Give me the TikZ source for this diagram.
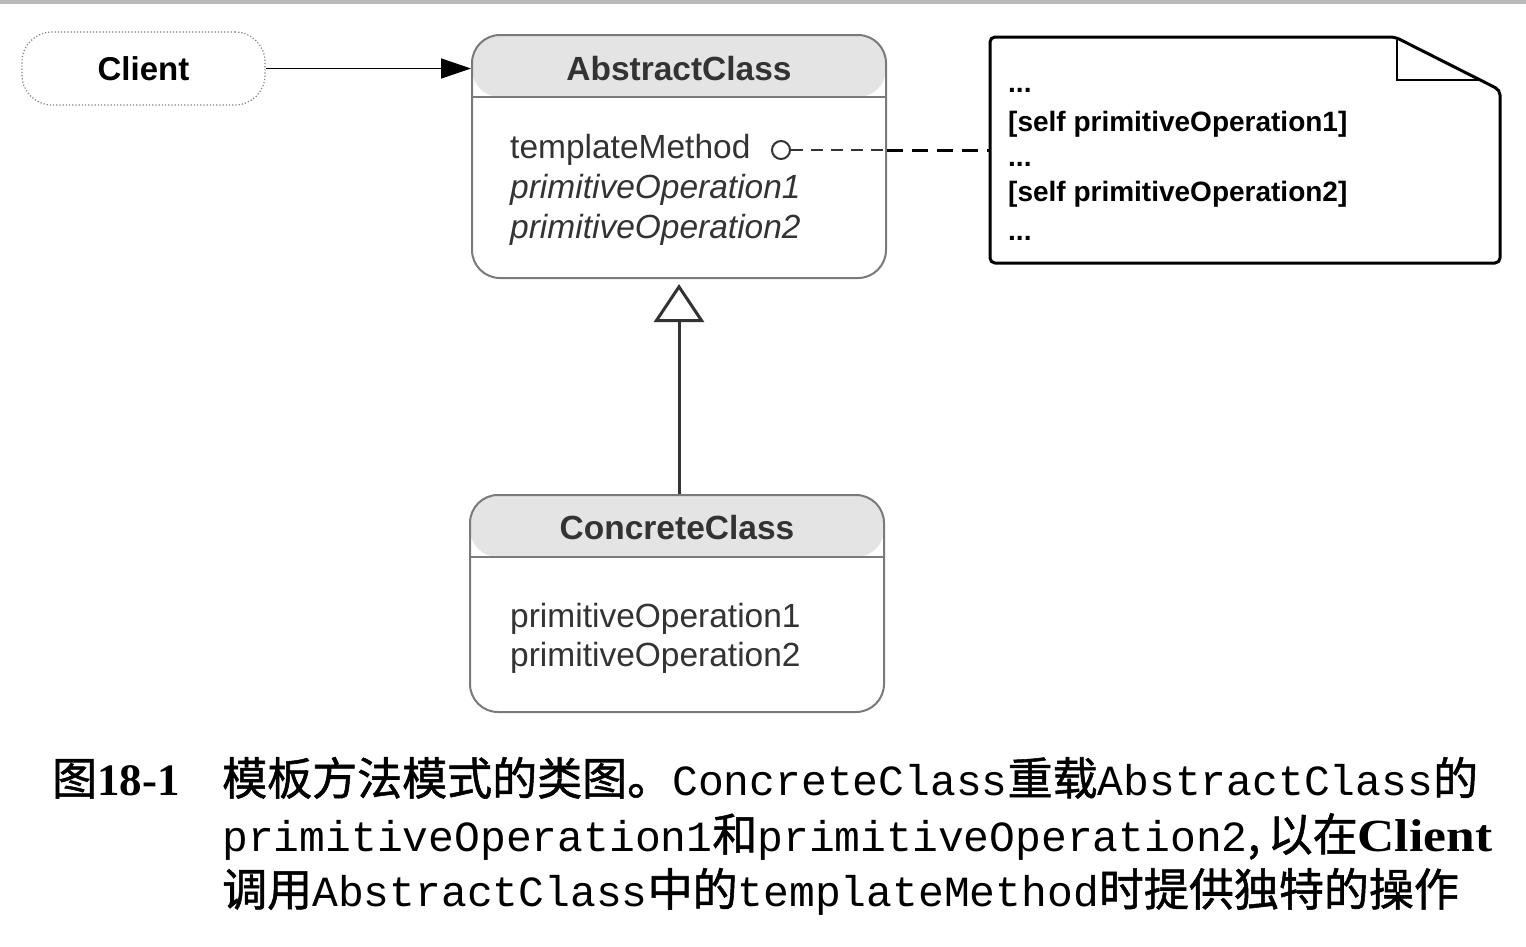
\documentclass[tikz,border=0pt]{standalone}
\usepackage{fontspec}
\setmainfont{Liberation Sans}
\newfontfamily\cjk[FakeBold=1.2]{Noto Sans CJK SC}
\newfontfamily\monof{Liberation Mono}
\newfontfamily\serf{Liberation Serif}
\usetikzlibrary{arrows.meta}
\definecolor{hdr}{HTML}{E4E4E4}
\definecolor{clsborder}{HTML}{7A7A7A}
\definecolor{txt}{HTML}{333333}
\begin{document}
\begin{tikzpicture}[x=1pt,y=-1pt,
  cls/.style={draw=clsborder, line width=2pt, rounded corners=28pt, fill=white, inner sep=0,
    path picture={
      \fill[hdr] (path picture bounding box.north west) rectangle ([yshift=-62pt]path picture bounding box.north east);
      \draw[clsborder, line width=2pt] ([yshift=-62pt]path picture bounding box.north west) -- ([yshift=-62pt]path picture bounding box.north east);
    }},
  clstitle/.style={anchor=base, inner sep=0, text=txt, font=\fontsize{33.5}{40}\selectfont\bfseries},
  ctext/.style={anchor=base west, inner sep=0, text=txt, font=\fontsize{33.5}{40}\selectfont},
  notetext/.style={anchor=base west, inner sep=0, text=black, font=\fontsize{28}{32}\selectfont\bfseries},
  captext/.style={anchor=base west, inner sep=0, text=black, font=\fontsize{45}{50}\selectfont},
]
\useasboundingbox (0,0) rectangle (1526,946);
\fill[white] (0,0) rectangle (1526,946);
\fill[gray!55] (0,0) rectangle (1526,4);

% Client
\node[draw=gray, dotted, line width=1.2pt, rounded corners=30pt, minimum width=243pt, minimum height=73pt, inner sep=0,
      font=\fontsize{33}{40}\selectfont\bfseries, text=black] (client) at (143.5,68.5) {Client};

% AbstractClass
\node[cls, minimum width=414pt, minimum height=243pt] (abs) at (679,156.5) {};
\node[clstitle] (absT) at (679,80) {AbstractClass};
\node[ctext] (tm) at (510,158) {templateMethod};
\node[ctext] (po1) at (510,198) {\itshape primitiveOperation1};
\node[ctext] (po2) at (510,238) {\itshape primitiveOperation2};
\node[circle, draw=txt, line width=2pt, minimum size=18pt, inner sep=0, fill=white] (circ) at (781,150) {};

% ConcreteClass
\node[cls, minimum width=414pt, minimum height=217pt] (conc) at (677,603.5) {};
\node[clstitle] (concT) at (677,539) {ConcreteClass};
\node[ctext] (cpo1) at (510,627) {primitiveOperation1};
\node[ctext] (cpo2) at (510,666) {primitiveOperation2};

% Note
\node[minimum width=510pt, minimum height=226pt, inner sep=0] (note) at (1245,150) {};
\coordinate (nSW) at (990,263);
\coordinate (nNW) at (990,37);
\coordinate (nF) at (1395,37);
\coordinate (nR) at (1500,90);
\coordinate (nSE) at (1500,263);
\draw[line width=3pt, line join=round, rounded corners=5pt] (nSW) -- (nNW) -- (nF) -- (nR) -- (nSE) -- cycle;
\draw[line width=2.5pt] (1397,40) -- (1397,80) -- (1482,80);
\node[notetext] (n1) at (1008,92) {...};
\node[notetext] (n2) at (1008,131) {[self primitiveOperation1]};
\node[notetext] (n3) at (1008,166) {...};
\node[notetext] (n4) at (1008,201) {[self primitiveOperation2]};
\node[notetext] (n5) at (1008,240) {...};

% connectors
\draw[line width=1.6pt, -{Triangle[length=30pt,width=20pt]}] (client.east) -- (client.east -| abs.west);
\draw[txt, line width=2pt, dash pattern=on 12pt off 8pt] (circ.east) -- (circ.east -| abs.east);
\draw[black, line width=3pt, dash pattern=on 16pt off 9pt] (circ.east -| abs.east) -- (circ.east -| note.west);
\draw[txt, line width=3pt, shorten >=5pt, -{Triangle[open, length=38pt, width=50pt, line width=3pt]}] (conc.north -| abs.south) -- (abs.south);

% caption
\node[captext] (fig) at (52,795) {{\cjk 图}{\serf\bfseries 18-1}};
\node[captext] (c1) at (222,795) {{\cjk 模板方法模式的类图。}{\monof\fontsize{43}{50}\selectfont ConcreteClass}{\cjk 重载}{\monof\fontsize{43}{50}\selectfont AbstractClass}{\cjk 的}};
\node[captext] (c2) at (222,851) {{\monof\fontsize{43}{50}\selectfont primitiveOperation1}{\cjk 和}{\monof\fontsize{43}{50}\selectfont primitiveOperation2}{\cjk ,\,以在}{\serf\bfseries\fontsize{46}{50}\selectfont\scalebox{1.12}[1]{Client}}};
\node[captext] (c3) at (222,906) {{\cjk 调用}{\monof\fontsize{43}{50}\selectfont AbstractClass}{\cjk 中的}{\monof\fontsize{43}{50}\selectfont templateMethod}{\cjk 时提供独特的操作}};
\end{tikzpicture}
\end{document}
